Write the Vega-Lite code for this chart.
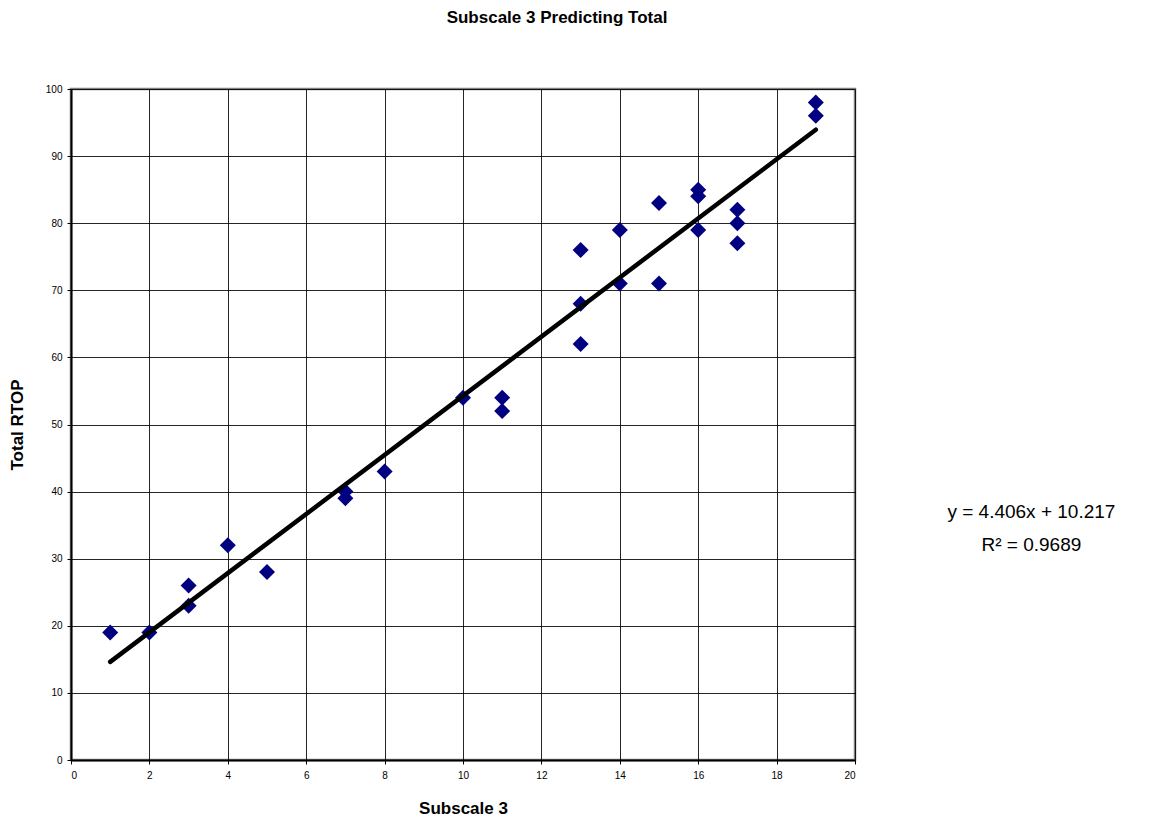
{
  "$schema": "https://vega.github.io/schema/vega-lite/v6.json",
  "width": 784,
  "height": 671,
  "autosize": {"type": "none"},
  "padding": {"left": 71, "top": 89, "right": 301, "bottom": 57},
  "background": "white",
  "title": {
    "text": "Subscale 3 Predicting Total",
    "font": "Liberation Sans",
    "fontSize": 17,
    "fontWeight": "bold",
    "color": "black",
    "anchor": "middle",
    "frame": "group",
    "dx": 94,
    "offset": 57
  },
  "config": {
    "view": {"stroke": "#808080", "strokeWidth": 2.5},
    "axis": {
      "labelFont": "Liberation Sans",
      "labelFontSize": 10,
      "labelColor": "black",
      "titleFont": "Liberation Sans",
      "titleFontSize": 17,
      "titleFontWeight": "bold",
      "titleColor": "black",
      "domainColor": "black",
      "domainWidth": 2,
      "tickColor": "black",
      "tickSize": 4,
      "gridColor": "black",
      "gridWidth": 1,
      "gridOpacity": 0.85
    }
  },
  "datasets": {
    "points": [
      {"subscale3": 1, "total": 19},
      {"subscale3": 2, "total": 19},
      {"subscale3": 3, "total": 26},
      {"subscale3": 3, "total": 23},
      {"subscale3": 4, "total": 32},
      {"subscale3": 5, "total": 28},
      {"subscale3": 7, "total": 40},
      {"subscale3": 7, "total": 39},
      {"subscale3": 8, "total": 43},
      {"subscale3": 10, "total": 54},
      {"subscale3": 11, "total": 54},
      {"subscale3": 11, "total": 52},
      {"subscale3": 13, "total": 76},
      {"subscale3": 13, "total": 68},
      {"subscale3": 13, "total": 62},
      {"subscale3": 14, "total": 79},
      {"subscale3": 14, "total": 71},
      {"subscale3": 15, "total": 83},
      {"subscale3": 15, "total": 71},
      {"subscale3": 16, "total": 85},
      {"subscale3": 16, "total": 84},
      {"subscale3": 16, "total": 79},
      {"subscale3": 17, "total": 82},
      {"subscale3": 17, "total": 80},
      {"subscale3": 17, "total": 77},
      {"subscale3": 19, "total": 98},
      {"subscale3": 19, "total": 96}
    ],
    "trend": [
      {"subscale3": 1, "total": 14.623},
      {"subscale3": 19, "total": 93.931}
    ],
    "equation": [
      {"subscale3": 24.5, "total": 37.0, "label": "y = 4.406x + 10.217"},
      {"subscale3": 24.5, "total": 32.1, "label": "R² = 0.9689"}
    ]
  },
  "layer": [
    {
      "data": {"name": "points"},
      "mark": {"type": "point", "shape": "diamond", "filled": true, "color": "#000080", "opacity": 1, "size": 256},
      "encoding": {
        "x": {
          "field": "subscale3", "type": "quantitative", "title": "Subscale 3",
          "scale": {"domain": [0, 20], "nice": false, "zero": false},
          "axis": {"values": [0, 2, 4, 6, 8, 10, 12, 14, 16, 18, 20], "titlePadding": 20, "labelPadding": 6}
        },
        "y": {
          "field": "total", "type": "quantitative", "title": "Total RTOP",
          "scale": {"domain": [0, 100], "nice": false},
          "axis": {"values": [0, 10, 20, 30, 40, 50, 60, 70, 80, 90, 100], "titlePadding": 19, "labelPadding": 5}
        }
      }
    },
    {
      "data": {"name": "trend"},
      "mark": {"type": "line", "color": "black", "strokeWidth": 4.5, "strokeCap": "round"},
      "encoding": {
        "x": {"field": "subscale3", "type": "quantitative"},
        "y": {"field": "total", "type": "quantitative"}
      }
    },
    {
      "data": {"name": "equation"},
      "mark": {"type": "text", "font": "Liberation Sans", "fontSize": 19, "color": "black", "align": "center", "baseline": "middle", "clip": false},
      "encoding": {
        "x": {"field": "subscale3", "type": "quantitative"},
        "y": {"field": "total", "type": "quantitative"},
        "text": {"field": "label"}
      }
    }
  ]
}
